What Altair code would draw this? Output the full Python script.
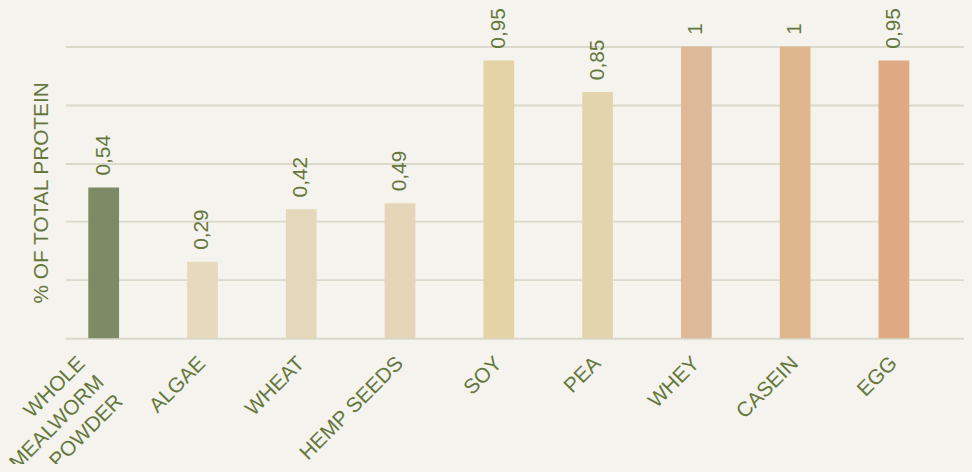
import altair as alt
import pandas as pd
import jinja2

categories = ["WHOLE|MEALWORM|POWDER", "ALGAE", "WHEAT", "HEMP SEEDS", "SOY", "PEA", "WHEY", "CASEIN", "EGG"]
values = [0.517, 0.262, 0.442, 0.463, 0.952, 0.844, 1.0, 1.0, 0.952]
labels = ["0,54", "0,29", "0,42", "0,49", "0,95", "0,85", "1", "1", "0,95"]
colors = ["#7e8a64", "#e6d9bd", "#e5d8ba", "#e4d6b7", "#e4d3a4", "#e3d4ae", "#ddb997", "#dfb78f", "#dea983"]

BG = "#f4f3ee"
TXT = "#66773d"
GRID = "#dad9cb"

df = pd.DataFrame({"cat": categories, "val": values, "lab": labels, "col": colors})

x = alt.X(
    "cat:N",
    sort=categories,
    scale=alt.Scale(paddingInner=0.5, paddingOuter=0.298, align=0.229),
    axis=alt.Axis(
        title=None,
        labelAngle=315,
        labelAlign="right",
        labelBaseline="middle",
        labelFontSize=21,
        labelColor=TXT,
        labelFont="Liberation Sans",
        labelPadding=22,
        labelLineHeight=27,
        labelExpr="split(datum.label, '|')",
        labelOffset={"condition": {"test": "datum.value == 'WHOLE|MEALWORM|POWDER'", "value": -22}, "value": 0},
        ticks=False,
        domain=False,
        grid=False,
        labelOverlap=False,
        labelLimit=400,
    ),
)
y = alt.Y(
    "val:Q",
    scale=alt.Scale(domain=[0, 1], nice=False),
    axis=alt.Axis(
        title="% OF TOTAL PROTEIN",
        titleFontSize=21,
        titleFontWeight="normal",
        titleColor=TXT,
        titleFont="Liberation Sans",
        titlePadding=14,
        values=[0, 0.2, 0.4, 0.6, 0.8, 1.0],
        labels=False,
        ticks=False,
        domain=False,
        grid=True,
        gridColor=GRID,
        gridWidth=2,
    ),
)

bars = alt.Chart(df).mark_bar(size=31).encode(
    x=x, y=y, color=alt.Color("col:N", scale=None)
)
text = alt.Chart(df).mark_text(
    angle=270, align="left", baseline="middle", fontSize=21,
    font="Liberation Sans", color=TXT, yOffset=-12,
).encode(x=x, y=y, text="lab:N")

chart = (bars + text).properties(
    width=906,
    height=294,
    autosize=alt.AutoSizeParams(type="none"),
    padding={"left": 58, "top": 37, "right": 0, "bottom": 125},
    background=BG,
).configure_view(stroke=None)

TEMPLATE = jinja2.Template("""<!DOCTYPE html>
<html>
<head>
  <style>
    body { background: #f4f3ee; }
    #{{ output_div }}.vega-embed { width: 100%; display: flex; }
  </style>
  <script type="text/javascript" src="{{ base_url }}/vega@{{ vega_version }}"></script>
  <script type="text/javascript" src="{{ base_url }}/vega-lite@{{ vegalite_version }}"></script>
  <script type="text/javascript" src="{{ base_url }}/vega-embed@{{ vegaembed_version }}"></script>
</head>
<body>
  <div id="{{ output_div }}"></div>
  <script>
    (function(vegaEmbed) {
      var spec = {{ spec }};
      var embedOpt = {{ embed_options }};
      vegaEmbed("#{{ output_div }}", spec, embedOpt);
    })(vegaEmbed);
  </script>
</body>
</html>
""")

chart.save("out.html", embed_options={"renderer": "svg", "actions": False}, template=TEMPLATE)
